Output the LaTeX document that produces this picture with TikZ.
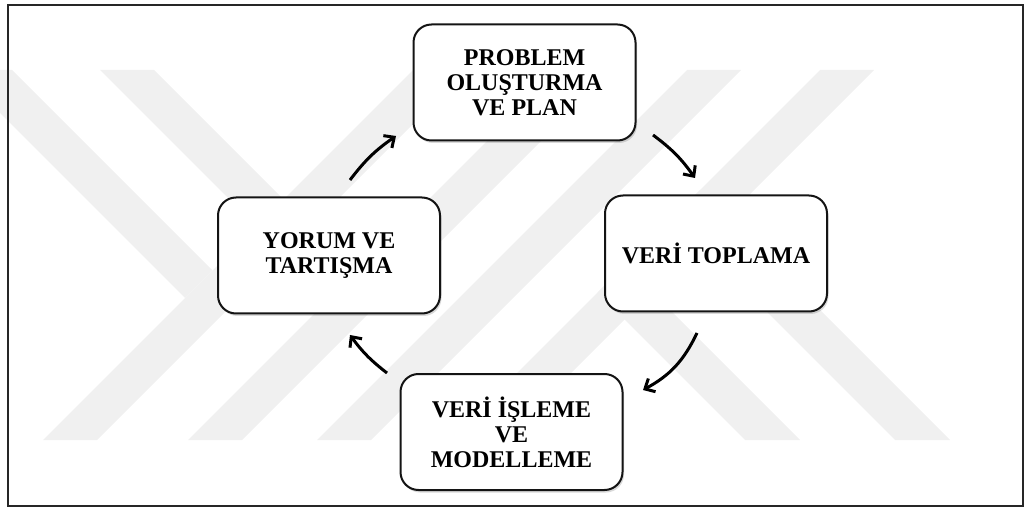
\documentclass[tikz,border=0pt]{standalone}
\usepackage{fontspec}
\setmainfont{Liberation Serif}
\usetikzlibrary{arrows.meta,shadows}
\definecolor{wmgray}{RGB}{240,240,240}
\definecolor{inkline}{RGB}{20,20,20}
\begin{document}
\begin{tikzpicture}[x=1pt,y=1pt,
  stage/.style={draw=inkline, line width=2pt, rounded corners=18pt, fill=white,
    minimum width=222pt, minimum height=116pt, align=center, inner sep=0pt,
    font=\fontsize{24}{25}\selectfont\bfseries,
    drop shadow={shadow xshift=1.5pt, shadow yshift=-2.5pt, opacity=0.25, fill=black!60}},
  cyc/.style={-{Straight Barb[length=8pt,width=15pt]}, line width=3pt, black},
  frameline/.style={draw=black!85, line width=1.4pt}]
\useasboundingbox (0,0) rectangle (1030,509);
\clip (0,0) rectangle (1030,509);

% light stripe emblem in the background (y measured downward here)
\begin{scope}[yshift=509pt, yscale=-1]
  \fill[wmgray] (43,440)--(97,440)--(467,70)--(413,70)--cycle;
  \fill[wmgray] (188,440)--(242,440)--(612,70)--(558,70)--cycle;
  \fill[wmgray] (317,440)--(371,440)--(741,70)--(687,70)--cycle;
  \fill[wmgray] (450,440)--(504,440)--(874,70)--(820,70)--cycle;
  \fill[wmgray] (-43,70)--(12,70)--(212.5,270.5)--(185,298)--cycle;
  \fill[wmgray] (100,70)--(154,70)--(356,272)--(329,299)--cycle;
  \fill[wmgray] (745,440)--(800,440)--(625,265)--(597.5,292.5)--cycle;
  \fill[wmgray] (895,440)--(950,440)--(700,190)--(672.5,217.5)--cycle;
\end{scope}

% outer frame
\draw[frameline] (8,3) rectangle (1023,504);

% the four stages of the cycle
\node[stage] (prob)   at (524.5,426.5) {PROBLEM\\OLUŞTURMA\\VE PLAN};
\node[stage] (veri)   at (716,255.5)   {VERİ TOPLAMA};
\node[stage] (isleme) at (511.5,77)    {VERİ İŞLEME\\VE\\MODELLEME};
\node[stage] (yorum)  at (329,253.5)   {YORUM VE\\TARTIŞMA};

% free-standing ends of the curved arrows
\coordinate (a1s) at (350,329);
\coordinate (a1e) at (396,373);
\coordinate (a2s) at (653,374);
\coordinate (a2e) at (695,331);
\coordinate (a3s) at (697,176);
\coordinate (a3e) at (643,119);
\coordinate (a4s) at (387,136);
\coordinate (a4e) at (350,174);

\draw[cyc] (a1s) to[bend left=9] (a1e);
\draw[cyc] (a2s) to[bend left=9] (a2e);
\draw[cyc] (a3s) to[bend left=18] (a3e);
\draw[cyc] (a4s) to[bend left=8] (a4e);
\end{tikzpicture}
\end{document}
